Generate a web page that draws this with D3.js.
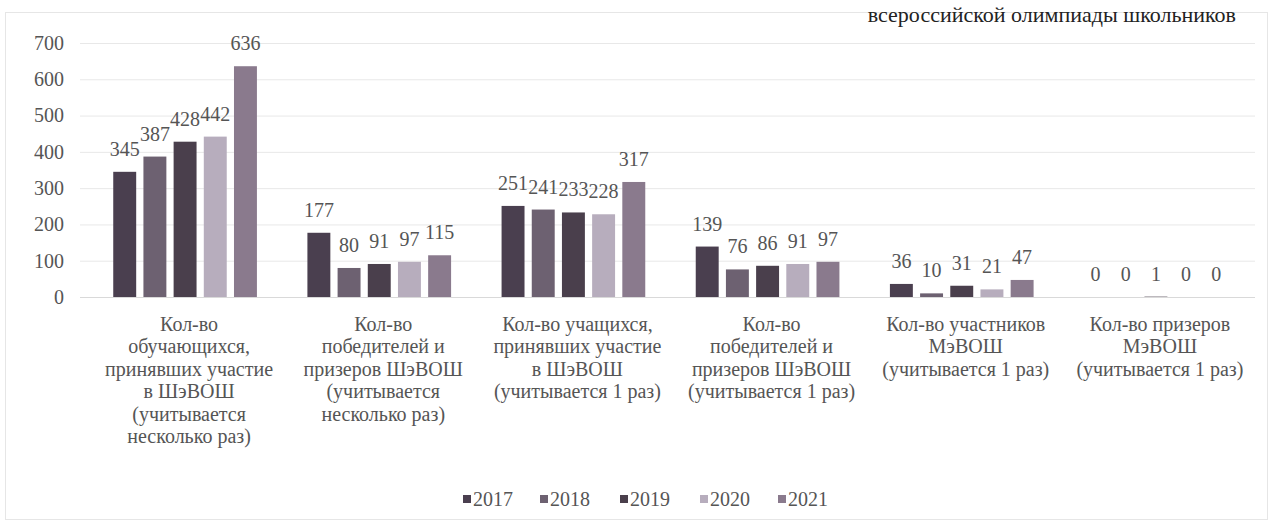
<!DOCTYPE html>
<html><head><meta charset="utf-8">
<script src="https://cdn.jsdelivr.net/npm/d3@7"></script>
<style>body{margin:0;background:#fff}svg{display:block}</style>
</head><body><svg id="c" width="1273" height="525"></svg>
<script>
const categories = [
  ["Кол-во","обучающихся,","принявших участие","в ШэВОШ","(учитывается","несколько раз)"],
  ["Кол-во","победителей и","призеров ШэВОШ","(учитывается","несколько раз)"],
  ["Кол-во учащихся,","принявших участие","в ШэВОШ","(учитывается 1 раз)"],
  ["Кол-во","победителей и","призеров ШэВОШ","(учитывается 1 раз)"],
  ["Кол-во участников","МэВОШ","(учитывается 1 раз)"],
  ["Кол-во призеров","МэВОШ","(учитывается 1 раз)"]
];
const years = ["2017","2018","2019","2020","2021"];
const v2017 = [345,177,251,139,36,0];
const v2018 = [387,80,241,76,10,0];
const v2019 = [428,91,233,86,31,1];
const v2020 = [442,97,228,91,21,0];
const v2021 = [636,115,317,97,47,0];
const yTicks = [0,100,200,300,400,500,600,700];
const colors = ["#4a3f4f","#6d6171","#4a3f4c","#b7adbd","#8a7a8d"];
const series = [v2017,v2018,v2019,v2020,v2021];

const svg = d3.select("#c");
const font = "'Liberation Serif','Times New Roman',serif";
const txt = "#555";
const fs = 20;

// outer border
svg.append("rect").attr("x",5.5).attr("y",12.5).attr("width",1262).attr("height",507)
  .attr("fill","none").attr("stroke","#e6e6e6");
// title (partly cut in the source image; kept fully visible here)
svg.append("text").attr("x",1236).attr("y",22).attr("text-anchor","end")
  .attr("font-family",font).attr("font-size",22).attr("fill","#222")
  .text("всероссийской олимпиады школьников");

const y = d3.scaleLinear().domain([0,700]).range([297,43]);
const x0 = d3.scaleBand().domain(d3.range(6)).range([88,1253]).paddingInner(0.26).paddingOuter(0.13);
const x1 = d3.scaleBand().domain(d3.range(5)).range([0,x0.bandwidth()]).paddingInner(0.24);

// grid
svg.append("g").selectAll("line").data(yTicks).join("line")
  .attr("x1",80).attr("x2",1255).attr("y1",d=>y(d)+0.5).attr("y2",d=>y(d)+0.5)
  .attr("stroke",d=>d===0?"#d9d9d9":"#e8e8e8");

// y axis
const ya = svg.append("g").attr("transform","translate(64,0)")
  .call(d3.axisLeft(y).tickValues(yTicks).tickSize(0).tickPadding(0));
ya.select(".domain").remove();
ya.attr("font-family",font);
ya.selectAll("text").attr("font-family",font).attr("font-size",fs).attr("fill",txt);

// bars
const g = svg.append("g");
series.forEach((s,si)=>{
  g.append("g").selectAll("rect").data(s).join("rect")
    .attr("x",(d,i)=>x0(i)+x1(si)).attr("width",x1.bandwidth())
    .attr("y",d=>y(d)).attr("height",d=>y(0)-y(d)).attr("fill",colors[si]);
  g.append("g").selectAll("text").data(s).join("text")
    .attr("x",(d,i)=>x0(i)+x1(si)+x1.bandwidth()/2).attr("y",d=>y(d)-16)
    .attr("text-anchor","middle").attr("font-family",font).attr("font-size",fs).attr("fill",txt)
    .text(d=>d);
});

// category labels
const cl = svg.append("g");
categories.forEach((lines,i)=>{
  const t = cl.append("text").attr("text-anchor","middle").attr("font-family",font)
    .attr("font-size",fs).attr("fill",txt);
  lines.forEach((l,j)=>{
    t.append("tspan").attr("x",x0(i)+x0.bandwidth()/2+4).attr("y",331+j*22.4).text(l);
  });
});

// legend
const lx = [463,540,620,700,778];
const lg = svg.append("g");
years.forEach((yr,i)=>{
  lg.append("rect").attr("x",lx[i]).attr("y",495).attr("width",8).attr("height",8).attr("fill",colors[i]);
  lg.append("text").attr("x",lx[i]+10).attr("y",506).attr("font-family",font).attr("font-size",fs)
    .attr("fill",txt).text(yr);
});
</script></body></html>
